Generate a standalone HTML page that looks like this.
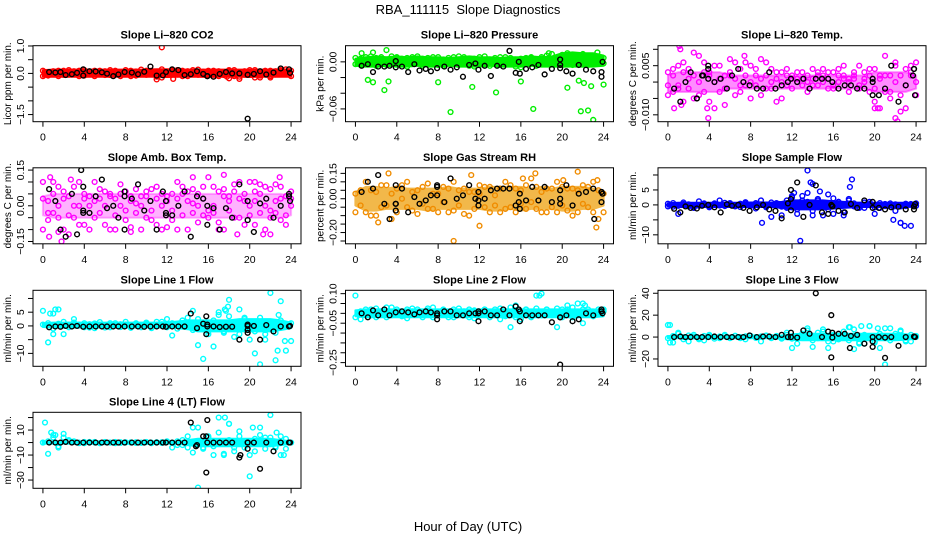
<!DOCTYPE html>
<html><head><meta charset="utf-8"><style>
html,body{margin:0;padding:0;background:#fff}
svg{display:block;font-family:"Liberation Sans",Arial,sans-serif}
</style></head><body>
<svg id="chart" width="936" height="540" viewBox="0 0 936 540">
<rect width="936" height="540" fill="#fff"/>
<text x="468" y="14" font-size="13" text-anchor="middle" style="white-space:pre">RBA_111115  Slope Diagnostics</text>
<text x="468" y="531" font-size="13" text-anchor="middle">Hour of Day (UTC)</text>
</svg>
<script>
const hoursHalf=[0,0.5,1,1.5,2,2.5,3,3.5,4,4.5,5,5.5,6,6.5,7,7.5,8,8.5,9,9.5,10,10.5,11,11.5,12,12.5,13,13.5,14,14.5,15,15.5,16,16.5,17,17.5,18,18.5,19,19.5,20,20.5,21,21.5,22,22.5,23,23.5,24];
const hoursFull=[0,1,2,3,4,5,6,7,8,9,10,11,12,13,14,15,16,17,18,19,20,21,22,23,24];
const blackHours=[0.6,1.2,1.7,2.2,2.8,3.3,3.9,4.5,5.1,5.7,6.2,6.8,7.3,7.9,8.6,9.2,9.8,10.4,11,11.6,11.9,12.5,13.1,13.7,14.3,14.9,15.5,15.9,16.5,17.1,17.7,18.3,19,19.8,20.4,21,21.6,22.3,23,23.8];
const xTicks=[0,4,8,12,16,20,24];

// Panel 1: CO2
const co2Y1=[-0.1,0.05,0.08,0.1,-0.05,0.12,0.02,0.1,-0.08,0.06,0.1,0.0,0.08,-0.06,0.1,0.05,0.12,-0.1,0.07,0.02,0.1,0.08,-0.12,0.15,0.05,0.1,0.12,-0.1,0.08,0.0,0.14,0.06,-0.06,0.1,-0.1,0.05,0.1,0.12,-0.12,0.02,0.12,0.04,-0.08,0.1,-0.1,0.08,0.0,0.15,-0.1];
const co2Y2=[0.1,-0.08,0.0,-0.1,0.1,-0.04,0.08,-0.1,0.12,-0.02,-0.1,0.1,-0.06,0.12,-0.02,-0.1,0.04,0.1,-0.08,0.14,-0.05,0.1,0.06,-0.15,-0.05,0.12,-0.04,0.1,-0.1,0.12,-0.05,0.02,0.1,-0.12,0.08,-0.06,0.12,-0.1,-0.2,0.08,-0.05,0.12,-0.15,0.05,0.1,-0.04,0.12,0.05,0.1];
const co2Lo=[-0.12,-0.12,-0.12,-0.12,-0.12,-0.12,-0.12,-0.12,-0.12,-0.12,-0.12,-0.12,-0.13,-0.12,-0.12,-0.12,-0.13,-0.12,-0.12,-0.12,-0.13,-0.12,-0.12,-0.12,-0.12];
const co2Hi=[0.12,0.14,0.14,0.14,0.14,0.14,0.14,0.14,0.14,0.14,0.14,0.15,0.15,0.14,0.14,0.14,0.14,0.14,0.14,0.14,0.14,0.14,0.14,0.15,0.13];
const co2OutX=[11.5,12.6,11,18,22,20.5,17.8];
const co2OutY=[0.95,-0.2,-0.22,-0.18,-0.15,-0.15,-0.12];
const co2Black=[0.05,0.03,0.05,-0.06,-0.03,0.02,0.15,0.08,0.07,0.04,-0.01,-0.1,-0.04,0.05,0.03,-0.03,0.06,0.25,-0.08,-0.07,0.05,0.15,0.12,-0.06,-0.03,0.08,-0.02,-0.1,-0.12,-0.02,0.05,0.0,0.0,-0.05,-0.02,0.08,-0.04,0.03,0.18,0.15];
const co2BlkX=[19.8,3.9,15.9,23.9];
const co2BlkY=[-1.65,-0.08,-0.1,0.02];

// Panel 2: Pressure
const prsY1=[-0.003,0.004,0.006,-0.002,0.005,0.003,-0.004,0.007,0.002,-0.003,0.005,0.006,-0.002,0.004,0.001,0.006,-0.004,0.003,0.005,-0.002,0.007,0.002,-0.005,0.004,0.006,-0.003,0.003,0.005,-0.004,0.006,0.002,-0.006,0.004,0.005,-0.002,0.003,0.006,0.008,-0.003,0.005,0.009,0.004,-0.004,0.008,0.006,0.002,-0.003,0.007,0.005];
const prsY2=[0.005,-0.004,0.002,0.007,-0.005,0.006,0.003,-0.003,0.006,0.004,-0.006,0.002,0.007,-0.005,0.005,0.002,0.006,-0.005,0.002,0.006,-0.004,0.006,0.003,-0.006,0.002,0.007,-0.005,0.001,0.006,-0.003,0.005,0.003,-0.007,0.002,0.006,-0.005,0.004,-0.003,0.010,0.006,-0.004,0.011,0.007,-0.003,0.010,-0.004,0.006,0.003,-0.002];
const prsLo=[-0.005,-0.006,-0.006,-0.005,-0.006,-0.006,-0.005,-0.006,-0.006,-0.005,-0.006,-0.006,-0.006,-0.005,-0.006,-0.006,-0.006,-0.005,-0.006,-0.006,-0.006,-0.006,-0.006,-0.006,-0.005];
const prsHi=[0.004,0.006,0.007,0.006,0.007,0.006,0.007,0.006,0.006,0.005,0.006,0.007,0.006,0.006,0.005,0.006,0.006,0.007,0.006,0.007,0.011,0.012,0.011,0.011,0.008];
const prsOutX=[1.2,1.7,2.8,3.2,8,9.2,11.3,13.6,16,17.2,20.5,21.6,21.8,22.1,22.5,22.8,23,24,3,1.7,23.4,0.6,18.7];
const prsOutY=[-0.023,-0.026,-0.036,-0.025,-0.026,-0.064,-0.032,-0.039,-0.025,-0.06,-0.033,-0.024,-0.063,-0.027,-0.062,-0.031,-0.074,-0.029,0.015,0.012,0.012,0.011,0.011];
const prsBlack=[-0.005,-0.003,-0.013,-0.006,-0.006,-0.005,-0.007,-0.006,-0.013,-0.003,-0.011,-0.009,-0.012,-0.008,-0.006,-0.010,-0.007,-0.019,-0.004,-0.002,-0.01,-0.005,-0.018,-0.005,-0.006,0.014,-0.014,-0.015,-0.009,-0.007,-0.004,-0.016,-0.009,-0.008,-0.012,-0.015,-0.004,-0.01,-0.012,-0.013];
const prsBlkX=[3.9,15.8,19.8,19.8,23.9,23.8];
const prsBlkY=[0.001,0.0,0.003,-0.004,0.0,-0.019];

// Panel 3: Li-820 Temp
const tmpY1=[-0.004,0.004,-0.002,0.006,0.001,-0.005,0.008,0.003,-0.006,0.005,-0.003,0.002,0.007,-0.004,0.004,-0.001,0.005,0.002,-0.004,0.006,-0.002,0.003,-0.005,0.004,0.002,0.003,-0.001,0.002,0.001,0.003,0.004,-0.002,0.003,0.002,0.005,0.001,0.002,-0.002,0.003,0.004,-0.006,0.002,0.008,-0.003,0.005,-0.009,0.004,0.005,-0.004];
const tmpY2=[0.003,-0.003,0.005,-0.006,0.004,0.009,-0.004,0.006,0.002,-0.008,0.005,-0.007,0.003,0.006,-0.003,0.006,-0.005,0.004,0.007,-0.002,0.004,-0.006,0.003,0.002,-0.002,0.001,0.003,-0.003,0.004,-0.001,0.002,0.003,-0.002,0.004,0.001,-0.003,0.003,0.005,0.001,-0.003,0.004,-0.008,0.002,-0.005,0.006,0.002,-0.008,0.003,0.006];
const tmpY3=[-0.001,0.002,-0.001,0.003,-0.002,0.002,0.0,-0.003,0.003,0.0,0.001,-0.002,0.002,0.001,-0.001,0.002,0.0,-0.001,0.001,0.002,0.0,0.001,0.0,-0.001,0.001,0.0,0.001,0.0,-0.001,0.002,0.0,0.001,-0.001,0.0,0.002,0.0,0.001,-0.001,0.0,0.002,-0.002,0.001,-0.003,0.002,0.0,-0.004,-0.001,0.002,0.0];
const tmpLo=[-0.003,-0.003,-0.003,-0.003,-0.003,-0.003,-0.002,-0.002,-0.002,-0.002,-0.002,-0.002,-0.002,-0.002,-0.002,-0.002,-0.002,-0.002,-0.002,-0.002,-0.003,-0.003,-0.003,-0.003,-0.002];
const tmpHi=[0.002,0.003,0.003,0.003,0.003,0.003,0.002,0.002,0.002,0.002,0.002,0.002,0.002,0.002,0.002,0.002,0.002,0.002,0.002,0.002,0.003,0.003,0.003,0.003,0.002];
const tmpOutX=[1.1,1.2,3.9,7.4,22.2,22,20,20.3,0.6,3.8,1.3];
const tmpOutY=[0.011,0.010,-0.011,0.008,-0.012,-0.011,-0.008,-0.008,-0.008,-0.008,-0.007];
const tmpBlack=[-0.002,-0.006,0.0,0.003,-0.005,0.002,0.001,0.0,0.001,-0.002,0.002,0.004,0.0,-0.001,-0.002,-0.002,0.003,-0.002,-0.001,0.0,0.001,0.0,0.001,-0.002,0.001,0.001,0.001,0.0,-0.002,-0.001,-0.001,-0.002,-0.002,0.0,-0.004,-0.002,0.005,-0.006,-0.001,0.004];
const tmpBlkX=[3.9,3.9,3.4,2.8,23.8,23.9,23.7,19.8,19.8];
const tmpBlkY=[0.005,0.004,0.002,-0.005,0.004,-0.004,0.002,-0.004,0.001];

// Panel 4: Amb Box Temp
const ambY1=[-0.1,0.02,0.1,-0.05,0.06,-0.12,0.08,0.0,-0.08,0.04,0.1,-0.03,0.06,-0.1,0.03,0.09,-0.06,0.02,0.07,-0.1,0.04,-0.02,0.08,0.0,-0.09,0.05,0.1,-0.04,0.02,0.07,-0.07,0.03,0.12,-0.03,0.06,-0.1,0.04,0.09,-0.05,0.02,0.1,-0.08,0.05,-0.1,0.07,0.02,-0.06,0.04,0.06];
const ambY2=[0.03,-0.06,-0.03,0.08,-0.1,0.04,-0.05,0.1,0.03,-0.1,0.02,0.07,-0.08,0.05,-0.04,0.0,0.06,-0.09,0.01,0.04,-0.05,0.07,-0.08,0.05,0.02,-0.06,0.03,0.08,-0.1,0.01,0.05,-0.04,-0.02,0.08,-0.07,0.04,-0.02,0.06,0.1,-0.08,0.0,0.06,-0.03,0.08,-0.05,0.09,0.03,-0.08,0.0];
const ambY3=[0.1,-0.03,0.05,0.0,0.03,-0.04,0.0,-0.08,0.05,0.0,-0.05,0.03,0.0,0.04,-0.1,0.05,-0.02,0.04,-0.03,0.0,0.06,-0.06,0.03,-0.1,0.04,-0.02,-0.1,0.05,0.06,-0.03,0.0,0.08,-0.05,0.0,-0.1,0.07,0.02,-0.05,0.03,0.05,-0.04,0.02,0.09,0.0,-0.02,-0.03,0.08,-0.04,0.03];
const ambLo=[-0.04,-0.05,-0.05,-0.05,-0.05,-0.05,-0.05,-0.05,-0.05,-0.05,-0.05,-0.05,-0.05,-0.05,-0.05,-0.05,-0.05,-0.05,-0.05,-0.05,-0.05,-0.05,-0.05,-0.05,-0.04];
const ambHi=[0.04,0.05,0.05,0.05,0.05,0.05,0.05,0.05,0.05,0.05,0.05,0.05,0.05,0.05,0.05,0.05,0.05,0.05,0.05,0.05,0.05,0.05,0.05,0.05,0.04];
const ambOutX=[0.6,1.8,1.5,0.7,2.7,8.5,14.5,17.5,18.8,21.3,22,22.9,20.5];
const ambOutY=[-0.13,-0.15,-0.11,0.12,0.11,-0.11,0.12,0.13,-0.12,-0.12,-0.12,0.12,0.1];
const ambBlack=[0.07,0.02,-0.1,-0.13,0.05,-0.12,0.08,-0.03,0.04,0.11,-0.01,0.0,-0.05,0.04,0.03,0.09,-0.02,0.02,-0.1,0.06,-0.04,-0.04,0.0,0.06,-0.13,0.04,0.03,-0.08,-0.01,-0.1,-0.01,-0.05,0.09,0.02,-0.11,0.01,0.03,-0.05,0.0,0.05];
const ambBlkX=[3.7,3.9,3.9,7.9,7.9,11.9,11.9,15.9,19.8,23.8,23.9];
const ambBlkY=[0.15,-0.03,-0.02,-0.1,0.06,-0.03,0.02,0.0,-0.06,0.04,0.02];

// Panel 5: Gas Stream RH
const rhY1=[-0.08,0.05,0.1,-0.1,0.04,-0.05,0.08,-0.12,0.06,0.0,0.1,-0.07,0.05,-0.03,0.09,-0.06,0.03,0.07,-0.08,0.1,-0.04,0.06,-0.1,0.04,0.08,-0.05,0.07,0.02,-0.08,0.1,-0.05,0.06,-0.03,0.08,0.12,-0.06,0.04,-0.08,0.06,0.1,-0.04,0.06,-0.1,0.05,0.08,-0.05,0.1,-0.12,-0.08];
const rhY2=[0.03,-0.04,-0.08,0.05,-0.1,0.08,-0.04,0.03,-0.08,0.08,-0.05,0.04,-0.09,0.07,-0.06,0.03,-0.08,-0.02,0.06,-0.07,0.05,-0.09,0.04,-0.06,0.03,0.07,-0.08,-0.04,0.06,-0.06,0.08,-0.08,0.05,-0.06,-0.02,0.07,-0.08,0.06,-0.05,-0.08,0.07,-0.07,0.06,-0.08,-0.03,0.07,-0.08,0.05,0.03];
const rhLo=[-0.04,-0.07,-0.07,-0.06,-0.06,-0.06,-0.06,-0.07,-0.06,-0.06,-0.06,-0.06,-0.06,-0.07,-0.07,-0.06,-0.07,-0.06,-0.06,-0.06,-0.07,-0.07,-0.06,-0.06,-0.04];
const rhHi=[0.04,0.07,0.07,0.06,0.07,0.06,0.06,0.06,0.06,0.07,0.06,0.06,0.06,0.07,0.07,0.07,0.07,0.06,0.07,0.06,0.07,0.07,0.07,0.06,0.04];
const rhOutX=[3.2,2.2,9.5,12,11.2,17.4,21.5,23.3,23.4,20.1,16.2];
const rhOutY=[0.15,-0.14,-0.25,-0.16,0.14,0.15,0.16,-0.17,0.11,0.11,0.12];
const rhBlack=[0.04,0.1,0.06,0.14,-0.03,-0.12,-0.03,0.06,-0.08,0.01,-0.03,-0.01,0.02,0.07,-0.02,0.12,0.0,0.02,0.08,0.0,0.04,0.0,0.05,0.06,0.06,0.06,-0.04,0.03,-0.01,0.07,-0.01,0.07,-0.02,0.05,0.08,-0.04,0.03,0.04,0.06,0.04];
const rhBlkX=[3.9,3.9,3.9,7.9,7.9,11.9,11.9,15.9,15.8,19.8,19.8,23.8,23.9,23.8,23.1];
const rhBlkY=[0.08,-0.03,-0.07,0.08,0.02,-0.04,-0.01,-0.06,-0.02,0.0,-0.03,-0.02,0.03,0.04,-0.12];

// Panel 6: Sample Flow
const sfY1=[-0.5,0.6,-0.3,0.8,0.2,-0.6,1.2,0.4,-0.4,0.5,-0.2,0.7,0.3,-0.5,0.4,0.9,-0.3,0.6,0.2,-0.4,0.8,0.3,-0.6,1.5,2.5,-1.5,3,1,-2,2,0.5,-1.5,2.2,1,-2.5,1.5,0.5,-1,0.8,0.3,-0.8,0.6,-0.4,0.5,0.2,-0.5,0.4,0.3,-0.3];
const sfY2=[0.4,-0.6,-3,0.3,-0.5,-1,-0.3,0.5,-0.8,0.2,1.5,-0.4,0.6,-0.3,-0.7,0.5,0.1,-1.2,1.5,-0.8,-4,0.6,-3.5,-1,3,-3,1.5,4,-3.5,1.5,-3.5,3.5,-3,1,-3.5,2,-0.5,-0.7,-1,1,-3,-1,0.3,-0.6,-2,-6,-0.4,-7,0.5];
const sfLo=[-0.6,-0.7,-0.7,-0.7,-0.7,-0.7,-0.7,-0.7,-0.7,-0.7,-0.7,-1.0,-1.5,-1.5,-1.5,-1.5,-1.2,-1.0,-0.8,-0.7,-0.7,-0.7,-0.7,-0.7,-0.6];
const sfHi=[0.6,0.7,0.7,0.7,0.7,0.7,0.7,0.7,0.8,0.8,0.8,1.0,1.5,1.5,1.5,1.5,1.2,1.0,0.8,0.7,0.7,0.7,0.7,0.7,0.6];
const sfOutX=[13.5,14,17.6,17.8,12.8,9.1,21.8,22.5,22.9,14.7,12.2,13.8];
const sfOutY=[11.5,7,6,8.5,-12,-6,-5,-6,-7,4.5,4,7.5];
const sfBlack=[-1.3,-2.5,-0.5,-1,-1.2,-0.3,0,-0.8,-2.5,0.2,-0.3,0,-1,-2,-0.8,0,-1.5,-2,-4.5,0.5,-1.8,7.5,-4,0,6.5,-2.5,-3,-0.4,-2,-2.5,0.3,-1,1.5,-1,-1,-1.5,-0.8,-0.6,-1.5,-1.5];
const sfBlkX=[11.9,11.9,15.9,15.8,19.8,23.9,23.8];
const sfBlkY=[5,2,-0.5,0,1,0.3,-0.5];

// Panel 7: Line 1 Flow
const l1Y1=[0.5,1,-1,0.8,1.5,-0.5,1.2,0.3,1,-0.6,0.9,1.4,0.2,-0.5,1,0.6,1.5,-0.3,1,0.4,1.2,-0.8,1.5,0.6,2.5,1,-1,2,3,-1.5,2.5,0,-3,2,4,-2,3.5,0,-3,2.5,1,-2,3,-3,1.5,-2.5,2,0.5,1];
const l1Y2=[5.5,-6,-3,6,-3,0.5,2.5,0.5,-0.5,0.6,-0.8,0.5,-0.6,1,0.2,-0.4,0.5,-0.7,0.6,-0.5,0.8,-0.6,0.5,1.5,-0.5,-3.5,0.5,2,1,5.5,-7,-12,-2,-7.5,5,-2.5,9.5,-4,6,3,-5,-10,-14,-1.5,12,-12.5,9,-9,-5.5];
const l1Lo=[-0.4,-0.6,-0.6,-0.6,-0.6,-0.6,-0.6,-0.6,-0.6,-0.6,-0.6,-0.6,-0.6,-0.8,-1.2,-2,-2,-2,-2,-2,-2,-2,-2,-1.5,-0.8];
const l1Hi=[1.0,1.2,1.2,1.2,1.2,1.2,1.2,1.2,1.2,1.2,1.2,1.2,1.3,1.6,2,2,2,2,2,2.5,2.5,2.5,2.5,2,1.2];
const l1OutX=[0.7,1.2,1,17.6,17.7,17.9,22.8,22.7,21.5,23.4];
const l1OutY=[4.5,6,4.5,6,5.5,7,4,-9,-5,-5.5];
const l1Black=[-0.5,-0.2,-0.3,0,-0.2,0,-0.3,-0.2,-0.2,-0.2,-0.2,-0.2,-0.2,-0.2,-0.2,-0.2,-0.3,-0.2,-0.2,-0.2,-0.3,-0.2,-0.2,-0.2,4.5,-0.8,0.8,-0.2,-0.2,-0.4,-0.3,-0.3,-5,-2.5,0,-5,0.3,-2,-0.2,-0.2];
const l1BlkX=[15.8,15.8,15.9,19.8,19.8,19.8,23.9];
const l1BlkY=[3.5,-3,0.5,-1.5,0,0.5,0];

// Panel 8: Line 2 Flow
const l2Y1=[-0.02,0.01,0.02,-0.01,0.025,0.0,-0.02,0.03,0.01,-0.015,0.02,0.025,0.0,-0.02,0.015,0.03,-0.01,0.02,0.0,-0.02,0.025,0.01,-0.02,0.015,0.0,0.02,-0.02,0.01,0.025,-0.015,0.03,-0.02,0.01,0.02,-0.015,0.025,-0.01,0.02,0.0,0.025,-0.02,0.02,0.03,-0.01,0.02,0.0,-0.015,0.02,0.01];
const l2Y2=[0.09,-0.03,0.0,0.02,-0.02,0.01,0.03,-0.01,0.02,0.0,-0.025,0.01,0.02,-0.01,0.025,-0.02,0.0,0.015,-0.02,0.02,0.0,-0.01,0.02,-0.025,0.01,0.02,-0.01,0.02,-0.03,0.01,-0.07,0.04,-0.03,0.02,-0.02,0.09,0.0,0.02,-0.01,-0.07,0.02,0.04,-0.02,0.05,-0.05,0.02,0.0,0.01,0.02];
const l2Lo=[-0.015,-0.02,-0.02,-0.02,-0.02,-0.02,-0.02,-0.02,-0.02,-0.02,-0.02,-0.02,-0.02,-0.02,-0.02,-0.02,-0.02,-0.02,-0.02,-0.02,-0.02,-0.02,-0.02,-0.02,-0.015];
const l2Hi=[0.015,0.02,0.02,0.02,0.02,0.02,0.02,0.02,0.02,0.02,0.02,0.02,0.02,0.02,0.02,0.02,0.02,0.02,0.02,0.02,0.02,0.02,0.02,0.02,0.015];
const l2OutX=[17.8,18,22,22.2];
const l2OutY=[0.09,0.1,0.05,0.04];
const l2Black=[0.0,-0.02,0.015,-0.01,0.02,-0.01,0.005,0.01,0.005,-0.005,0.005,0.01,0.005,0.0,0.01,0.01,-0.01,-0.01,0.0,0.0,0.0,0.01,-0.01,-0.01,0.02,-0.01,0.035,-0.04,-0.01,-0.01,-0.01,-0.01,-0.045,-0.02,-0.01,-0.04,-0.03,0.0,-0.01,0.01];
const l2BlkX=[7.9,7.9,11.9,11.9,15.8,15.9,19.8,19.8,23.8,23.9,23.8];
const l2BlkY=[-0.01,-0.03,-0.04,0.01,0.02,0.01,-0.26,-0.02,0.01,0.0,0.02];

// Panel 9: Line 3 Flow
const l3Y1=[-1,1,3,-2,1.5,0.5,-1,1,2,-1.5,0.5,1,-0.5,1.2,-1,0.6,1,-0.8,0.5,1.5,-1,0.8,-1.5,2,-1.5,-6,3,6,-3,4,7,-4,2,-2,5,-3,7,-6,2,10,-4,3,8,-3,1,5,-4,2,1];
const l3Y2=[11,-5,4,0,-4,2,-2,-3,1,0,-1,2,-1,1,0,-2,1,0,-4,1,0,1,-1,4,-10,-1,3,8,-9,-1,5,-10,-4,-2,2,9,-11,-5,-6,10,-5,-10,-25,8,3,6,-3,-4,0];
const l3Lo=[-1,-1,-1,-1,-1,-1,-1,-1,-1,-1,-1,-1.5,-2.5,-3,-3,-3,-3,-3,-3,-3,-3,-3,-3,-2.5,-1.5];
const l3Hi=[1,1,1,1,1,1,1,1,1,1,1,1.5,2.5,3,3,3,3,3,3,3,3,3,3,2.5,1.5];
const l3OutX=[0.2,0.2,18.7,17.6,20.3];
const l3OutY=[11,-5,10,9,8];
const l3Black=[0,0.5,0,0,0,0,0,0.5,0,0,0,0,0,1.5,0,0.5,0.5,0,2,0,0,-0.5,6,3,40,0,5,4,3,3,1,2,-6,-9,0,-0.5,0,-8,0,0.5];
const l3BlkX=[11.9,15.8,15.8,15.9,17.6,19.8,19.8,21,23.9];
const l3BlkY=[4,20,-18.5,-0.5,-10,-4,0,-19,0];

// Panel 10: Line 4 (LT) Flow
const l4Y1=[0,1,6,-3,4,1,0.5,-0.5,0.5,0,0.5,-0.5,0.5,0,0.5,-0.3,0.3,0,0.3,-0.3,0.5,0,0.3,-0.3,0.5,0,1,-2,5,-8,12,-5,5,-3,8,-10,15,-4,5,0,-10,3,12,-5,4,-3,5,-5,0];
const l4Y2=[0,-9,4,-4,7,2,1,0,-0.5,0.5,0,-0.5,0.3,0,-0.5,0.3,0,0.2,-0.3,0,0.3,-0.5,0,0.3,1,-4,-2,2,-4,12,-36,-4,4,-10,20,-9,2,-7,9,-4,-27,-7,6,4,22,-4,-10,3,0];
const l4Lo=[-0.8,-0.8,-0.8,-0.8,-0.8,-0.8,-0.8,-0.8,-0.8,-0.8,-0.8,-0.8,-0.8,-0.8,-2,-3,-3,-3,-3,-3,-3,-3,-3,-2,-1];
const l4Hi=[0.8,0.8,0.8,0.8,0.8,0.8,0.8,0.8,0.8,0.8,0.8,0.8,0.8,1,2,3,3,3,3,3,3,3,3,2,1];
const l4OutX=[0.2,0.8,1.2,17.6,18,20.3,22.6,23.3];
const l4OutY=[16,8,6,20,15,12,8,-10];
const l4Black=[0,0,0,0.5,0,0,0,0,0,0,0,0,0,0,0,0,0,0,0,0,0,0,0,0,16,-2,5,18,0,0,0,0,-12,0,0,-21,0,-7,0,0];
const l4BlkX=[14.8,15.8,15.8,15.9,19.1,19.8,19.8,23.9];
const l4BlkY=[-3,5,-24,0,-10,-5,0,0];

const panels=[
 {name:'co2',title:'Slope Li\u2013820 CO2',ylab:'Licor ppm per min.',col:0,row:0,ylim:[-1.76,1.01],ticks:[1.0,0.5,0.0,-0.5,-1.0,-1.5],labels:['1.0','','0.0','','','\u22121.5'],color:'#ff0000',ys:[co2Y1,co2Y2],lo:co2Lo,hi:co2Hi,ox:co2OutX,oy:co2OutY,bk:co2Black,bx:co2BlkX,by:co2BlkY},
 {name:'pressure',title:'Slope Li\u2013820 Pressure',ylab:'kPa per min.',col:1,row:0,ylim:[-0.0763,0.0206],ticks:[0,-0.02,-0.04,-0.06],labels:['0.00','','','\u22120.06'],color:'#00ee00',ys:[prsY1,prsY2],lo:prsLo,hi:prsHi,ox:prsOutX,oy:prsOutY,bk:prsBlack,bx:prsBlkX,by:prsBlkY},
 {name:'li820-temp',title:'Slope Li\u2013820 Temp.',ylab:'degrees C per min.',col:2,row:0,ylim:[-0.0121,0.0111],ticks:[0.01,0.005,0,-0.005,-0.01],labels:['','0.005','','','\u22120.010'],color:'#ff00ff',ys:[tmpY1,tmpY2,tmpY3],lo:tmpLo,hi:tmpHi,bandOp:0.45,ox:tmpOutX,oy:tmpOutY,bk:tmpBlack,bx:tmpBlkX,by:tmpBlkY},
 {name:'amb-box-temp',title:'Slope Amb. Box Temp.',ylab:'degrees C per min.',col:0,row:1,ylim:[-0.1597,0.1596],ticks:[0.15,0.1,0.05,0,-0.05,-0.1,-0.15],labels:['0.15','','','0.00','','','\u22120.15'],color:'#ff00ff',ys:[ambY1,ambY2,ambY3],lo:ambLo,hi:ambHi,bandOp:0.3,ox:ambOutX,oy:ambOutY,bk:ambBlack,bx:ambBlkX,by:ambBlkY},
 {name:'gas-stream-rh',title:'Slope Gas Stream RH',ylab:'percent per min.',col:1,row:1,ylim:[-0.2666,0.183],ticks:[0.15,0.1,0.05,0,-0.05,-0.1,-0.15,-0.2,-0.25],labels:['0.15','','','0.00','','','','\u22120.20',''],color:'#f08c00',band:'#f2b84a',ys:[rhY1,rhY2],lo:rhLo,hi:rhHi,ox:rhOutX,oy:rhOutY,bk:rhBlack,bx:rhBlkX,by:rhBlkY},
 {name:'sample-flow',title:'Slope Sample Flow',ylab:'ml/min per min.',col:2,row:1,ylim:[-13,12.4],ticks:[10,5,0,-5,-10],labels:['','5','0','','\u221210'],color:'#0000ff',ys:[sfY1,sfY2],lo:sfLo,hi:sfHi,ox:sfOutX,oy:sfOutY,bk:sfBlack,bx:sfBlkX,by:sfBlkY},
 {name:'line1-flow',title:'Slope Line 1 Flow',ylab:'ml/min per min.',col:0,row:2,ylim:[-14.7,12.97],ticks:[10,5,0,-5,-10],labels:['','5','0','','\u221210'],color:'#00ffff',ys:[l1Y1,l1Y2],lo:l1Lo,hi:l1Hi,ox:l1OutX,oy:l1OutY,bk:l1Black,bx:l1BlkX,by:l1BlkY},
 {name:'line2-flow',title:'Slope Line 2 Flow',ylab:'ml/min per min.',col:1,row:2,ylim:[-0.2687,0.117],ticks:[0.1,0.05,0,-0.05,-0.1,-0.15,-0.2,-0.25],labels:['0.10','','','\u22120.05','','','','\u22120.25'],color:'#00ffff',ys:[l2Y1,l2Y2],lo:l2Lo,hi:l2Hi,ox:l2OutX,oy:l2OutY,bk:l2Black,bx:l2BlkX,by:l2BlkY},
 {name:'line3-flow',title:'Slope Line 3 Flow',ylab:'ml/min per min.',col:2,row:2,ylim:[-26.7,42.7],ticks:[40,20,0,-20],labels:['40','20','0','\u221220'],color:'#00ffff',ys:[l3Y1,l3Y2],lo:l3Lo,hi:l3Hi,ox:l3OutX,oy:l3OutY,bk:l3Black,bx:l3BlkX,by:l3BlkY},
 {name:'line4-flow',title:'Slope Line 4 (LT) Flow',ylab:'ml/min per min.',col:0,row:3,ylim:[-36.6,24.2],ticks:[20,10,0,-10,-20,-30],labels:['','10','','\u221210','','\u221230'],color:'#00ffff',ys:[l4Y1,l4Y2],lo:l4Lo,hi:l4Hi,ox:l4OutX,oy:l4OutY,bk:l4Black,bx:l4BlkX,by:l4BlkY}
];

const NS='http://www.w3.org/2000/svg';
const svg=document.getElementById('chart');
const colLeft=[33,345.5,658];
const rowTop=[45.7,167.8,290.3,412.3];
const PW=268, PH=76, XMIN=-0.96, XMAX=24.96;
function mk(tag,attrs,parent){const e=document.createElementNS(NS,tag);for(const k in attrs)e.setAttribute(k,attrs[k]);(parent||svg).appendChild(e);return e;}

panels.forEach(p=>{
  const L=colLeft[p.col], T=rowTop[p.row], B=T+PH, R=L+PW;
  const sx=v=>L+(v-XMIN)/(XMAX-XMIN)*PW;
  const sy=v=>B-(v-p.ylim[0])/(p.ylim[1]-p.ylim[0])*PH;
  const g=mk('g',{});
  
  
  const t=mk('text',{x:(L+R)/2,y:T-7,'font-size':11,'font-weight':'bold','text-anchor':'middle'},g);
  t.textContent=p.title;
  
  
  const yl=mk('text',{x:0,y:0,'font-size':10,'text-anchor':'middle',transform:`translate(${L-22},${(T+B)/2}) rotate(-90)`},g);
  yl.textContent=p.ylab;
  
  
  const clip='clip-'+p.name;
  const cp=mk('clipPath',{id:clip},g); mk('rect',{x:L,y:T,width:PW,height:PH},cp);
  const plot=mk('g',{'clip-path':`url(#${clip})`},g);
  
  
  if(p.lo){
    let d='';
    hoursFull.forEach((h,i)=>{d+=(i?'L':'M')+sx(h).toFixed(1)+','+sy(p.hi[i]).toFixed(1);});
    for(let i=hoursFull.length-1;i>=0;i--){d+='L'+sx(hoursFull[i]).toFixed(1)+','+sy(p.lo[i]).toFixed(1);}
    const op=p.bandOp||1;
    const band=mk('path',{d:d+'Z',fill:p.band||p.color,'fill-opacity':op,stroke:p.band||p.color,'stroke-width':2,'stroke-linejoin':'round','stroke-opacity':op},plot);
    
    
  }
  p.ys.forEach(arr=>arr.forEach((v,i)=>{
    const c=mk('circle',{cx:sx(hoursHalf[i]),cy:sy(v),r:2.4,fill:'none',stroke:p.color,'stroke-width':1.4},plot);
    
    
  }));
  p.ox.forEach((x,i)=>{
    const c=mk('circle',{cx:sx(x),cy:sy(p.oy[i]),r:2.4,fill:'none',stroke:p.color,'stroke-width':1.4},plot);
    
    
  });
  p.bk.forEach((v,i)=>{
    const c=mk('circle',{cx:sx(blackHours[i]),cy:sy(v),r:2.4,fill:'none',stroke:'#000','stroke-width':1.4},plot);
    
    
  });
  p.bx.forEach((x,i)=>{
    const c=mk('circle',{cx:sx(x),cy:sy(p.by[i]),r:2.4,fill:'none',stroke:'#000','stroke-width':1.4},plot);
    
    
  });
  const fr=mk('rect',{x:L,y:T,width:PW,height:PH,fill:'none',stroke:'#000','stroke-width':1},g);
  
  
  xTicks.forEach(v=>{
    mk('line',{x1:sx(v),x2:sx(v),y1:B,y2:B+5,stroke:'#000'},g);
    const tl=mk('text',{x:sx(v),y:B+19,'font-size':10.5,'text-anchor':'middle'},g);
    tl.textContent=v;
    
    
  });
  p.ticks.forEach((v,i)=>{
    mk('line',{x1:L-5,x2:L,y1:sy(v),y2:sy(v),stroke:'#000'},g);
    if(p.labels[i]){
      const tl=mk('text',{x:0,y:0,'font-size':10.5,'text-anchor':'middle',transform:`translate(${L-9},${sy(v)}) rotate(-90)`},g);
      tl.textContent=p.labels[i];
      
      
    }
  });
});
</script>
</body></html>
